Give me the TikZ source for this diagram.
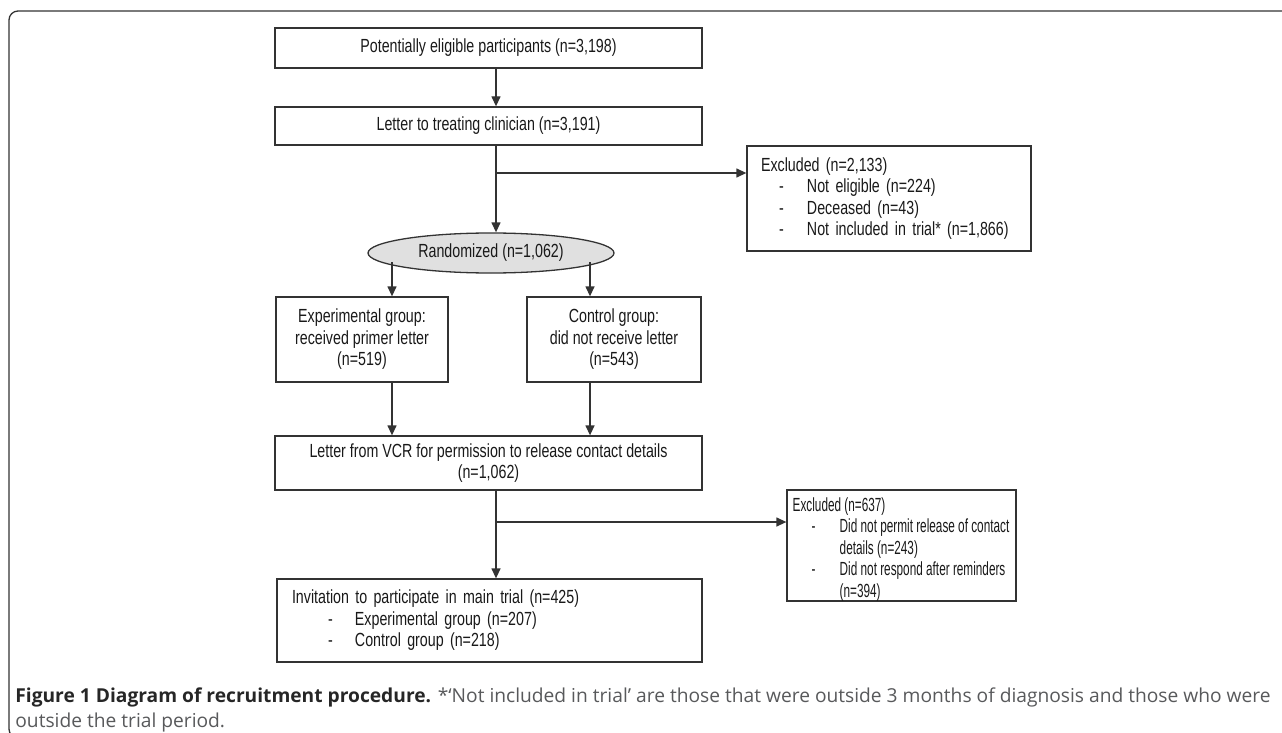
\documentclass[tikz,border=0pt]{standalone}
\usepackage{fontspec}
\usetikzlibrary{arrows.meta,shapes.geometric}
\newfontfamily\diagfont[FakeStretch=0.75]{Liberation Sans}
\newfontfamily\narrowfont[FakeStretch=0.62]{Liberation Sans}
\newfontfamily\capfont{Open Sans}
\definecolor{linegray}{RGB}{51,51,51}
\definecolor{fillgray}{RGB}{224,224,224}
\definecolor{capgray}{RGB}{88,89,91}
\newcommand{\dashitem}[3]{\makebox[#1]{}\makebox[#2][l]{-}#3}
\newcommand{\contitem}[2]{\makebox[#1]{}#2}

\tikzset{every picture/.style={line width=0.75pt}}
\tikzset{
  flowbox/.style={draw=linegray, line width=1.3pt, rectangle, inner sep=0pt, align=center,
    font=\diagfont\fontsize{19}{21.5}\selectfont, text=black!90},
  listbox/.style={flowbox, align=left},
  listtext/.style={inner sep=0pt, align=left, font=\narrowfont\fontsize{19}{21.5}\selectfont, text=black!90},
  arr/.style={draw=linegray, line width=1.3pt, -{Triangle[length=10pt,width=9pt]}},
  captext/.style={anchor=base west, inner sep=0pt, font=\capfont\fontsize{19.2}{25}\selectfont, text=capgray},
}

\begin{document}
\begin{tikzpicture}[x=1pt,y=1pt,yscale=-1,xscale=1]
\useasboundingbox (0,0) rectangle (1282,733);

%Shape: Frame
\begin{scope}
\clip (0,0) rectangle (1282,733);
\draw [color=linegray, line width=1.3pt, rounded corners=9pt] (1290,11) -- (9,11) -- (9,738) -- (30,738);
\end{scope}

%Shape: Rectangle
\node [flowbox, minimum width=427pt, minimum height=40pt] (potential) at (488.5,48) {Potentially eligible participants (n=3,198)};
%Shape: Rectangle
\node [flowbox, minimum width=427pt, minimum height=38pt] (clinician) at (488.5,126) {Letter to treating clinician (n=3,191)};
%Shape: Rectangle
\node [listbox, inner xsep=14pt, text width=256pt, minimum height=105pt] (exclA) at (889,198.5) {Excluded (n=2,133)\\
  \dashitem{18pt}{28pt}{Not eligible (n=224)}\\
  \dashitem{18pt}{28pt}{Deceased (n=43)}\\
  \dashitem{18pt}{28pt}{Not included in trial* (n=1,866)}};
%Shape: Ellipse
\node [flowbox, ellipse, fill=fillgray, minimum width=246pt, minimum height=40pt] (rand) at (491,253) {Randomized (n=1,062)};
%Shape: Rectangle
\node [flowbox, minimum width=172pt, minimum height=85pt] (exp) at (362,339.5) {Experimental group:\\received primer letter\\(n=519)};
%Shape: Rectangle
\node [flowbox, minimum width=174pt, minimum height=85pt] (ctrl) at (614,339.5) {Control group:\\did not receive letter\\(n=543)};
%Shape: Rectangle
\node [flowbox, minimum width=427pt, minimum height=54pt] (vcr) at (488.5,463) {Letter from VCR for permission to release contact details\\(n=1,062)};
%Shape: Rectangle
\node [flowbox, minimum width=229pt, minimum height=111pt] (exclB) at (901.5,545.5) {};
% Text Node
\node [listtext, anchor=west] (exclBtext) at ([xshift=6pt,yshift=4pt]exclB.west) {Excluded (n=637)\\
  \dashitem{19pt}{28pt}{Did not permit release of contact}\\
  \contitem{47pt}{details (n=243)}\\
  \dashitem{19pt}{28pt}{Did not respond after reminders}\\
  \contitem{47pt}{(n=394)}};
%Shape: Rectangle
\node [listbox, inner xsep=15pt, text width=395pt, minimum height=83pt] (invite) at (489.5,620.5) {Invitation to participate in main trial (n=425)\\
  \dashitem{36pt}{27pt}{Experimental group (n=207)}\\
  \dashitem{36pt}{27pt}{Control group (n=218)}};

%Straight Lines
\coordinate (spine) at (496,0);
\coordinate (brA) at (496,173);
\coordinate (brB) at (496,522);
\coordinate (spL) at (392,262);
\coordinate (spR) at (590,262);
\draw [arr] (potential.south -| spine) -- (clinician.north -| spine);
\draw [arr] (clinician.south -| spine) -- (rand.north -| spine);
\draw [arr] (brA) -- (brA -| exclA.west);
\draw [arr] (spL) -- (spL |- exp.north);
\draw [arr] (spR) -- (spR |- ctrl.north);
\draw [arr] (exp.south -| spL) -- (vcr.north -| spL);
\draw [arr] (ctrl.south -| spR) -- (vcr.north -| spR);
\draw [arr] (vcr.south -| spine) -- (invite.north -| spine);
\draw [arr] (brB) -- (brB -| exclB.west);

% Text Node
\node [captext] (cap1) at (15,702) {{\bfseries\color{black!85}Figure 1 Diagram of recruitment procedure.} *‘Not included in trial’ are those that were outside 3 months of diagnosis and those who were};
% Text Node
\node [captext] (cap2) at (15,727) {outside the trial period.};

\end{tikzpicture}
\end{document}
